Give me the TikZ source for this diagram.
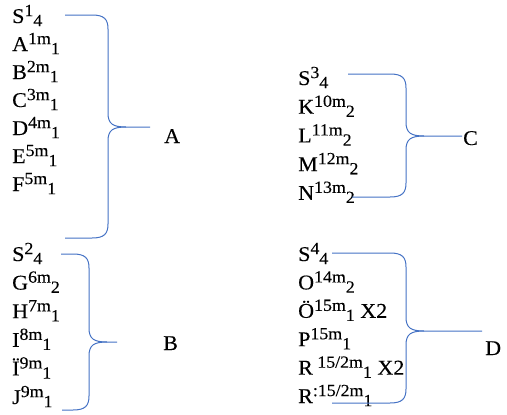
\documentclass[tikz,border=0pt]{standalone}
\usepackage{fontspec}
\setmainfont{Liberation Serif}[FakeBold=0.2, FakeStretch=1.05]
\usetikzlibrary{positioning}
\definecolor{wordblue}{RGB}{68,114,196}
\newcommand\hi[1]{\raisebox{0.33em}{\fontsize{17}{17}\selectfont #1}}
\newcommand\lo[1]{\raisebox{-0.15em}{\fontsize{17}{17}\selectfont #1}}

\begin{document}
\begin{tikzpicture}[x=1pt, y=-1pt,
    entry/.style={anchor=base west, inner sep=0pt, font=\fontsize{21}{25}\selectfont},
    group/.style={anchor=base west, inner sep=0pt, font=\fontsize{21}{25}\selectfont},
    brace/.style={wordblue, line width=1pt}]
    \useasboundingbox (0,0) rectangle (507,415);

    % Left column
    \foreach \t [count=\i from 0] in {S\hi{1}\lo{4}, A\hi{1m}\lo{1}, B\hi{2m}\lo{1},
        C\hi{3m}\lo{1}, D\hi{4m}\lo{1}, E\hi{5m}\lo{1}, F\hi{5m}\lo{1}}
        \node[entry] (a\i) at (12,{23+28*\i}) {\t};
    \foreach \t [count=\i from 0] in {S\hi{2}\lo{4}, G\hi{6m}\lo{2}, H\hi{7m}\lo{1},
        I\hi{8m}\lo{1}, Ï\hi{9m}\lo{1}, J\hi{9m}\lo{1}}
        \node[entry] (b\i) at (12,{261+28.6*\i}) {\t};

    % Right column
    \foreach \t [count=\i from 0] in {S\hi{3}\lo{4}, K\hi{10m}\lo{2}, L\hi{11m}\lo{2},
        M\hi{12m}\lo{2}, N\hi{13m}\lo{2}}
        \node[entry] (c\i) at (298,{85+28.7*\i}) {\t};
    \foreach \t [count=\i from 0] in {S\hi{4}\lo{4}, O\hi{14m}\lo{2}, Ö\hi{15m}\lo{1} X2,
        P\hi{15m}\lo{1}, R\hi{\ 15/2m}\lo{1} X2, R\hi{:15/2m}\lo{1}}
        \node[entry] (d\i) at (298,{261+28.4*\i}) {\t};

    % Group labels
    \node[group] (lblA) at (164,143) {A};
    \node[group] (lblB) at (163,350) {B};
    \node[group] (lblC) at (463,145) {C};
    \node[group] (lblD) at (485,355) {D};

    % Braces
    \foreach \xl/\yt/\xv/\xt/\ym/\yb/\xb in {65/15/108/150/127/238/65, 61/254/89/117/342/410/62,
        348/74/406/462/136/197/352, 332/253/406/482/331/403/332} {
        \draw[brace] (\xl,\yt) -- ({\xv-16},\yt) .. controls ({\xv-4},\yt) and (\xv,{\yt+4}) .. (\xv,{\yt+14})
            -- (\xv,{\ym-14}) .. controls (\xv,{\ym-3}) and ({\xv+5},\ym) .. ({\xv+18},\ym) -- (\xt,\ym);
        \draw[brace] (\xb,\yb) -- ({\xv-16},\yb) .. controls ({\xv-4},\yb) and (\xv,{\yb-4}) .. (\xv,{\yb-14})
            -- (\xv,{\ym+14}) .. controls (\xv,{\ym+3}) and ({\xv+5},\ym) .. ({\xv+18},\ym);
    }
\end{tikzpicture}
\end{document}
